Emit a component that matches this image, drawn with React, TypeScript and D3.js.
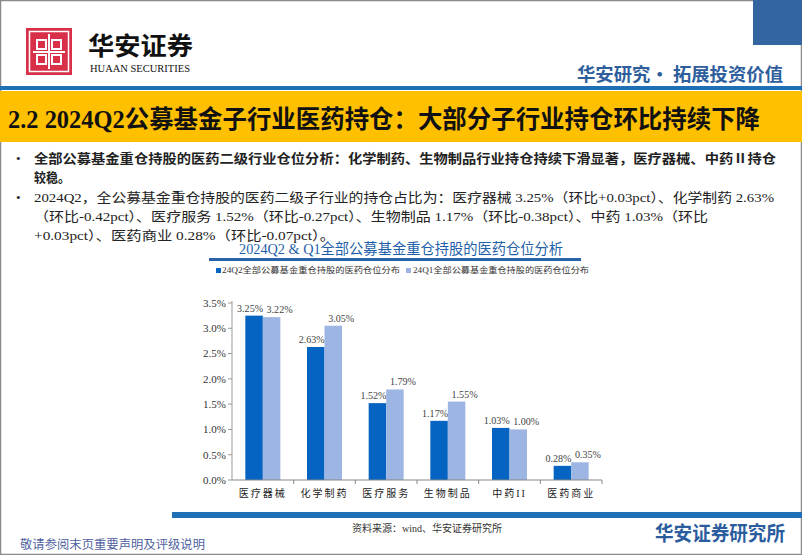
import * as d3 from "d3";
import React from "react";

// chart data
const categories = ["医疗器械", "化学制药", "医疗服务", "生物制品", "中药II", "医药商业"];
const q2Values = [3.25, 2.63, 1.52, 1.17, 1.03, 0.28];
const q1Values = [3.22, 3.05, 1.79, 1.55, 1.0, 0.35];
const seriesNames = [
  "24Q2全部公募基金重仓持股的医药仓位分布",
  "24Q1全部公募基金重仓持股的医药仓位分布",
];
const seriesColors = ["#0563C1", "#9DB5E2"];
const yTicks = [0, 0.5, 1, 1.5, 2, 2.5, 3, 3.5];

// slide text
const slideTitle = "2.2 2024Q2公募基金子行业医药持仓：大部分子行业持仓环比持续下降";
const bullet1 = [
  "全部公募基金重仓持股的医药二级行业仓位分析：化学制药、生物制品行业持仓持续下滑显著，医疗器械、中药Ⅱ持仓",
  "较稳。",
];
const bullet2 = [
  "2024Q2，全公募基金重仓持股的医药二级子行业的持仓占比为：医疗器械 3.25%（环比+0.03pct）、化学制药 2.63%",
  "（环比-0.42pct）、医疗服务 1.52%（环比-0.27pct）、生物制品 1.17%（环比-0.38pct）、中药 1.03%（环比",
  "+0.03pct）、医药商业 0.28%（环比-0.07pct）。",
];
const chartTitle = "2024Q2 & Q1全部公募基金重仓持股的医药仓位分析";

const SERIF = '"Liberation Serif", "Times New Roman", "Noto Sans CJK SC", serif';
const SANS = '"Noto Sans CJK SC", "Noto Sans", sans-serif';

const width = 802,
  height = 555;
const plot = { left: 232, right: 602, top: 303, bottom: 480 };
// value labels sit a little left of the dark bar and right of the light bar
const labelShift = [-4, 8];

const App: React.FC = () => {
  const x = d3
    .scaleBand<string>()
    .domain(categories)
    .range([plot.left, plot.right]);
  const xInner = d3
    .scaleBand<number>()
    .domain([0, 1])
    .range([x.bandwidth() / 2 - 17.5, x.bandwidth() / 2 + 17.5]);
  const y = d3.scaleLinear().domain([0, 3.5]).range([plot.bottom, plot.top]);
  const fmt = d3.format(".1%");
  const series = [q2Values, q1Values];

  return (
    <svg
      width={width}
      height={height}
      style={{ position: "fixed", left: 0, top: 0, background: "#fff" }}
    >
      {/* frame */}
      <rect x={0.5} y={0.5} width={width - 1} height={height - 1} fill="#fff" stroke="#8a8a8a" strokeWidth={1.5} />
      <rect x={753} y={0} width={49} height={45} fill="#3366A0" />

      {/* logo */}
      <rect x={26} y={28} width={46} height={47} fill="#D9304A" />
      <rect x={29.5} y={31.5} width={39} height={40} fill="none" stroke="#fff" strokeWidth={1.5} />
      <g fill="none" stroke="#fff" strokeWidth={2}>
        <rect x={37} y={40} width={9} height={9} />
        <rect x={52} y={40} width={9} height={9} />
        <rect x={37} y={55} width={9} height={9} />
        <rect x={52} y={55} width={9} height={9} />
        <line x1={49} y1={34} x2={49} y2={69} />
        <line x1={33} y1={52} x2={65} y2={52} />
      </g>
      <text x={88} y={55} fontFamily={SERIF} fontSize={25} fontWeight="bold" fill="#111" textLength={105} lengthAdjust="spacingAndGlyphs">
        华安证券
      </text>
      <text x={90} y={72} fontFamily={SERIF} fontSize={10} fill="#111" textLength={100} lengthAdjust="spacingAndGlyphs">
        HUAAN SECURITIES
      </text>
      <text x={577} y={81} fontFamily={SANS} fontSize={18} fontWeight="bold" fill="#2E5E9C" textLength={206} lengthAdjust="spacingAndGlyphs">
        华安研究• 拓展投资价值
      </text>
      <rect x={0} y={86} width={width} height={4} fill="#1F6FB6" />

      {/* title bar */}
      <rect x={0} y={91} width={width} height={51} fill="#FFC000" />
      <text x={8} y={128} fontFamily={SERIF} fontSize={25} fontWeight="bold" fill="#111" textLength={752} lengthAdjust="spacingAndGlyphs">
        {slideTitle}
      </text>

      {/* bullets */}
      <g fontFamily={SERIF} fontSize={13} fill="#222">
        <text x={16} y={163}>•</text>
        <text x={34} y={163} fontWeight="bold" textLength={742} lengthAdjust="spacingAndGlyphs">{bullet1[0]}</text>
        <text x={34} y={182} fontWeight="bold" textLength={36} lengthAdjust="spacingAndGlyphs">{bullet1[1]}</text>
        <text x={16} y={202}>•</text>
        <text x={34} y={202} textLength={740} lengthAdjust="spacingAndGlyphs">{bullet2[0]}</text>
        <text x={34} y={221} textLength={674} lengthAdjust="spacingAndGlyphs">{bullet2[1]}</text>
        <text x={34} y={240} textLength={301} lengthAdjust="spacingAndGlyphs">{bullet2[2]}</text>
      </g>

      {/* chart title */}
      <text x={401} y={254} textAnchor="middle" fontFamily={SERIF} fontSize={15} fill="#1F5FAA" textLength={324} lengthAdjust="spacingAndGlyphs">
        {chartTitle}
      </text>
      <rect x={209} y={258} width={372} height={3} fill="#2A64A8" />

      {/* legend */}
      <g fontFamily={SERIF} fontSize={8.5} fill="#333">
        <rect x={216} y={268} width={5} height={5} fill={seriesColors[0]} />
        <text x={222} y={273} textLength={178} lengthAdjust="spacingAndGlyphs">{seriesNames[0]}</text>
        <rect x={406} y={268} width={5} height={5} fill={seriesColors[1]} />
        <text x={413} y={273} textLength={176} lengthAdjust="spacingAndGlyphs">{seriesNames[1]}</text>
      </g>

      {/* y axis */}
      <line x1={plot.left} y1={y(3.5) - 2} x2={plot.left} y2={plot.bottom} stroke="#999" />
      {yTicks.map((t) => (
        <g key={t}>
          <line x1={plot.left - 4} x2={plot.left} y1={y(t)} y2={y(t)} stroke="#999" />
          <text x={plot.left - 6} y={y(t)} dy="0.35em" textAnchor="end" fontFamily={SERIF} fontSize={11} fill="#333">
            {fmt(t / 100)}
          </text>
        </g>
      ))}

      {/* bars */}
      {categories.map((c, i) => (
        <g key={c} transform={`translate(${x(c)},0)`}>
          {series.map((vals, s) => (
            <g key={s}>
              <rect
                x={xInner(s)}
                y={y(vals[i])}
                width={xInner.bandwidth()}
                height={y(0) - y(vals[i])}
                fill={seriesColors[s]}
              />
              <text
                x={(xInner(s) as number) + xInner.bandwidth() / 2 + labelShift[s]}
                y={y(vals[i]) - 4}
                textAnchor="middle"
                fontFamily={SERIF}
                fontSize={10}
                fill="#444"
                textLength={26}
                lengthAdjust="spacingAndGlyphs"
              >
                {vals[i].toFixed(2)}%
              </text>
            </g>
          ))}
        </g>
      ))}

      {/* x axis */}
      <line x1={plot.left} y1={plot.bottom} x2={plot.right} y2={plot.bottom} stroke="#888" strokeWidth={1.2} />
      {categories.map((c) => (
        <line key={c} x1={(x(c) as number) + x.bandwidth()} x2={(x(c) as number) + x.bandwidth()} y1={plot.bottom} y2={plot.bottom + 4} stroke="#888" />
      ))}
      {categories.map((c) => (
        <text key={c} x={(x(c) as number) + x.bandwidth() / 2} y={497} textAnchor="middle" fontFamily={SERIF} fontSize={10} fill="#222" letterSpacing={2}>
          {c}
        </text>
      ))}

      {/* footer */}
      <rect x={172} y={512} width={width - 172} height={6} fill="#1F6FB6" />
      <text x={427} y={532} textAnchor="middle" fontFamily={SERIF} fontSize={10} fill="#333" textLength={150} lengthAdjust="spacingAndGlyphs">
        资料来源：wind、华安证券研究所
      </text>
      <text x={655} y={541} fontFamily={SANS} fontSize={20} fontWeight="bold" fill="#2B5C9E" textLength={130} lengthAdjust="spacingAndGlyphs">
        华安证券研究所
      </text>
      <text x={20} y={549} fontFamily={SERIF} fontSize={12} fill="#4F5FA0" textLength={185} lengthAdjust="spacingAndGlyphs">
        敬请参阅末页重要声明及评级说明
      </text>
    </svg>
  );
};

export default App;
